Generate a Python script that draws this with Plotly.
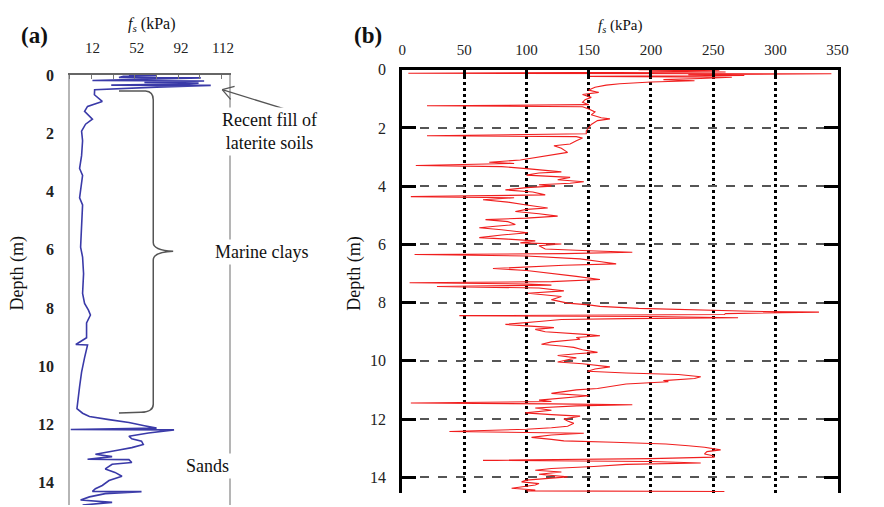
import math
import plotly.graph_objects as go

W, H = 884, 507
SERIF = "Liberation Serif, Times New Roman, serif"

# ---------------- (a) sleeve friction profile, fill / marine clay / sand ----------------
depth_a = [0.00, 0.03, 0.05, 0.09, 0.10, 0.13, 0.19, 0.21, 0.24, 0.26, 0.28, 0.31, 0.35, 0.36,
           0.42, 0.48, 0.51, 0.68, 0.91, 1.08, 1.25, 1.52, 1.69, 1.93, 2.26, 2.77, 3.21, 3.45,
           4.22, 4.46, 5.14, 5.91, 6.25, 6.82, 7.50, 7.84, 8.07, 8.24, 8.51, 9.02, 9.25, 9.27,
           9.70, 10.20, 10.70, 11.20, 11.45, 11.61, 11.72, 11.83, 11.93, 12.04, 12.12, 12.17,
           12.18, 12.29, 12.40, 12.49, 12.57, 12.68, 12.79, 12.87, 12.96, 13.02, 13.10, 13.19,
           13.20, 13.30, 13.36, 13.52, 13.64, 13.77, 13.92, 14.09, 14.20, 14.29, 14.30, 14.37,
           14.48, 14.59, 14.67, 14.76]
fs_a = [45, 70, 40, 36, 110, 80, 12, 113, 90, 59, 108, 95, 29, 119,
        70, 38, 14, 13.8, 20.9, 7.6, 4.9, 12, 5.8, 2.2, 3.1, 2.2, 0.4, 3.1,
        0.4, 3.1, 2.2, 1.3, 3.1, 4.0, 3.1, 4.9, 8.4, 10.2, 6.7, 6.7, -3.0, 7.6,
        4.9, 2.2, 0.4, -1.3, -2.0, 3.1, 9.3, 27, 45, 59, 70, -7.6,
        85.8, 62.7, 45, 47.6, 56.4, 58, 47.6, 36, 20.9, 14.7, 29.8, 7.6,
        45, 47.6, 29.8, 23.6, 32.4, 38.7, 27, 20.9, 14.7, 12, 56.4, 23.6,
        9.3, 1.3, 29.8, 3.1]

tick_pos_a = [12, 52, 92, 130]
tick_text_a = ["12", "52", "92", "112"]
depth_ticks = [0, 2, 4, 6, 8, 10, 12, 14]

# ---------------- (b) sleeve friction profile ----------------
depth_b = [0.00, 0.02, 0.05, 0.08, 0.12, 0.14, 0.17, 0.20, 0.23, 0.26, 0.30, 0.34, 0.38, 0.42,
           0.48, 0.53, 0.60, 0.70, 0.78, 0.85, 0.95, 1.03, 1.12, 1.20, 1.24, 1.27, 1.35, 1.45,
           1.55, 1.65, 1.69, 1.75, 1.88, 2.00, 2.10, 2.20, 2.27, 2.30, 2.35, 2.44, 2.55, 2.61,
           2.70, 2.84, 2.95, 3.01, 3.10, 3.18, 3.22, 3.29, 3.33, 3.40, 3.51, 3.55,
           3.62, 3.70, 3.78, 3.85, 3.90, 3.95, 4.00, 4.05, 4.13, 4.20, 4.30, 4.36, 4.40, 4.47,
           4.55, 4.65, 4.75, 4.80, 4.87, 4.95, 5.03, 5.10, 5.15, 5.22, 5.32, 5.38, 5.43, 5.50,
           5.60, 5.68, 5.77, 5.82, 5.88, 5.95, 5.99, 6.05, 6.16, 6.22, 6.27, 6.32, 6.35, 6.40,
           6.50, 6.60, 6.67, 6.72, 6.83, 6.90, 7.00, 7.10, 7.21, 7.28, 7.32, 7.36,
           7.40, 7.45, 7.50, 7.60, 7.68, 7.75, 7.79, 7.90, 8.02, 8.08, 8.13, 8.20, 8.24, 8.30,
           8.33, 8.38, 8.41, 8.45, 8.48, 8.52, 8.55, 8.58, 8.65, 8.75, 8.80, 8.86, 8.92, 9.00,
           9.10, 9.14, 9.20, 9.26, 9.35, 9.43, 9.50, 9.54, 9.62, 9.71, 9.76, 9.82, 9.90, 10.00,
           10.04, 10.10, 10.21, 10.28, 10.36, 10.42, 10.47, 10.55, 10.61, 10.68, 10.72, 10.80,
           10.90, 10.95, 11.00, 11.06,
           11.12, 11.20, 11.28, 11.35, 11.40, 11.45, 11.48, 11.51, 11.55, 11.62, 11.70, 11.79,
           11.85, 11.90, 12.00, 12.07, 12.15, 12.25, 12.30, 12.35, 12.43, 12.46, 12.49, 12.55,
           12.63, 12.70, 12.75, 12.80, 12.86, 12.92, 12.97, 13.06, 13.12, 13.20, 13.26, 13.31,
           13.36, 13.42, 13.46, 13.51, 13.56, 13.63, 13.70, 13.76, 13.82, 13.90, 13.99, 14.05,
           14.10, 14.16, 14.22, 14.27, 14.33, 14.38, 14.44, 14.47, 14.49]
fs_b = [190, 255, 200, 260, 5, 345, 230, 275, 150, 265, 240, 210, 235, 200,
        175, 164, 155, 150, 158, 145, 152, 147, 145, 150, 20, 145, 150, 155,
        152, 160, 167, 157, 152, 150, 148, 148, 20, 140, 145, 140, 135, 122,
        128, 133, 118, 107, 95, 70, 90, 11, 80, 100, 128, 110,
        100, 135, 125, 146, 135, 110, 120, 100, 83, 105, 115, 7, 90, 65,
        85, 100, 117, 100, 91, 110, 125, 100, 67, 85, 91, 75, 62, 80,
        101, 80, 62, 85, 107, 95, 128, 110, 115, 150, 185, 130, 10, 100,
        143, 160, 172, 130, 73, 100, 122, 140, 159, 120, 6, 100,
        120, 28, 110, 130, 101, 115, 128, 120, 133, 150, 159, 190, 227, 280,
        335, 260, 259, 46, 200, 270, 180, 128, 110, 83, 100, 122, 107, 115,
        150, 159, 140, 143, 120, 112, 130, 138, 145, 157, 140, 125, 140, 128,
        125, 145, 167, 155, 149, 180, 222, 240, 235, 210, 214, 180,
        165, 157, 140, 128,
        120, 150, 130, 110, 120, 7, 120, 185, 140, 107, 120, 99,
        120, 143, 130, 133, 138, 133, 120, 100, 38, 120, 146, 120,
        104, 120, 130, 170, 212, 230, 243, 256, 245, 243, 250, 251,
        200, 65, 200, 240, 180, 154, 120, 107, 128, 110, 133, 115,
        100, 96, 110, 107, 95, 88, 107, 100, 259]

fs_ticks_b = [0, 50, 100, 150, 200, 250, 300, 350]


def px(x):
    return x / W


def py(y):
    return 1 - y / H


fig = go.Figure()

fig.add_trace(go.Scatter(x=fs_a, y=depth_a, mode="lines", xaxis="x", yaxis="y",
                         line=dict(color="#3a3aa8", width=1.6), showlegend=False))
fig.add_trace(go.Scatter(x=fs_b, y=depth_b, mode="lines", xaxis="x2", yaxis="y2",
                         line=dict(color="#f01e1e", width=1.1), showlegend=False))

tick_font = dict(family=SERIF, size=15, color="#222")
tick_font_bold = dict(family=SERIF, size=16, color="#222", weight="bold")

fig.update_layout(
    width=W, height=H,
    margin=dict(l=0, r=0, t=0, b=0),
    paper_bgcolor="white", plot_bgcolor="white",
    xaxis=dict(domain=[px(67), px(229)], range=[-8.4, 135.6], side="top",
               anchor="y", showgrid=False, zeroline=False,
               tickmode="array", tickvals=tick_pos_a, ticktext=tick_text_a,
               ticks="", ticklabelstandoff=14, tickfont=tick_font,
               showline=True, linecolor="#666", linewidth=2,
               minor=dict(tickmode="linear", tick0=-8.4, dtick=19.6, ticks="inside",
                          ticklen=4, tickcolor="#777", tickwidth=1)),
    yaxis=dict(domain=[py(505), py(68)], range=[14.76, 0], anchor="x",
               showgrid=False, zeroline=False, tickvals=depth_ticks,
               ticks="", ticklabelstandoff=11, tickfont=tick_font_bold,
               showline=True, linecolor="#b5b5b5", linewidth=1.5, mirror=True),
    xaxis2=dict(domain=[px(405), px(848)], range=[0, 350], side="top",
                anchor="y2", zeroline=False, tickvals=fs_ticks_b,
                ticks="inside", ticklen=7, tickwidth=3, tickcolor="black",
                ticklabelstandoff=6, tickfont=tick_font,
                showline=True, linecolor="black", linewidth=3,
                showgrid=True, gridcolor="black", gridwidth=2.5, griddash="dot"),
    yaxis2=dict(domain=[py(493), py(62.7)], range=[14.55, 0], anchor="x2",
                zeroline=False, tickvals=depth_ticks,
                ticks="inside", ticklen=14, tickwidth=3, tickcolor="black",
                ticklabelstandoff=10, tickfont=dict(family=SERIF, size=16, color="#222"),
                showline=True, linecolor="black", linewidth=3, mirror="ticks",
                showgrid=True, gridcolor="#555", gridwidth=1.5, griddash="dash"),
)

# curly brace spanning the marine clay layer
brace = ("M 36,0.55 L 60,0.55 Q 67,0.57 67,0.85 L 67,5.75 "
         "Q 67,6.02 85,6.05 Q 67,6.08 67,6.35 L 67,11.3 "
         "Q 67,11.56 56,11.58 L 36,11.6")
fig.add_shape(type="path", path=brace, xref="x", yref="y",
              line=dict(color="#555", width=1.5))

# arrow pointing at the fill layer
tip = (222, 83)
tail = (287, 103)
fig.add_shape(type="line", xref="paper", yref="paper",
              x0=px(tail[0]), y0=py(tail[1]), x1=px(tip[0]), y1=py(tip[1]),
              line=dict(color="#555", width=1.3))
ang = math.atan2(tail[1] - tip[1], tail[0] - tip[0])
for d in (math.radians(32), -math.radians(32)):
    fig.add_shape(type="line", xref="paper", yref="paper",
                  x0=px(tip[0]), y0=py(tip[1]),
                  x1=px(tip[0] + 13 * math.cos(ang + d)),
                  y1=py(tip[1] + 13 * math.sin(ang + d)),
                  line=dict(color="#555", width=1.3))


def label(text, x, y, size=15, bold=False, bg=None, angle=0):
    fig.add_annotation(text=f"<b>{text}</b>" if bold else text,
                       x=px(x), y=py(y), xref="paper", yref="paper",
                       showarrow=False, textangle=angle,
                       font=dict(family=SERIF, size=size, color="#111"),
                       bgcolor=bg, borderpad=2, xanchor="center", yanchor="middle")


label("(a)", 31, 28, size=23, bold=True)
label("(b)", 370, 28, size=23, bold=True)
label("<i>f<sub>s</sub></i> (kPa)", 150, 17, size=16)
label("<i>f<sub>s</sub></i> (kPa)", 627, 18, size=15)
label("Depth (m)", 14, 270, size=18, angle=-90)
label("Depth (m)", 357, 270, size=18, angle=-90)
label("Recent fill of<br>laterite soils", 270, 125, size=18, bg="white")
label("Marine clays", 262, 248, size=18, bg="white")
label("Sands", 207, 465, size=18, bg="white")

fig.write_html("out.html")
